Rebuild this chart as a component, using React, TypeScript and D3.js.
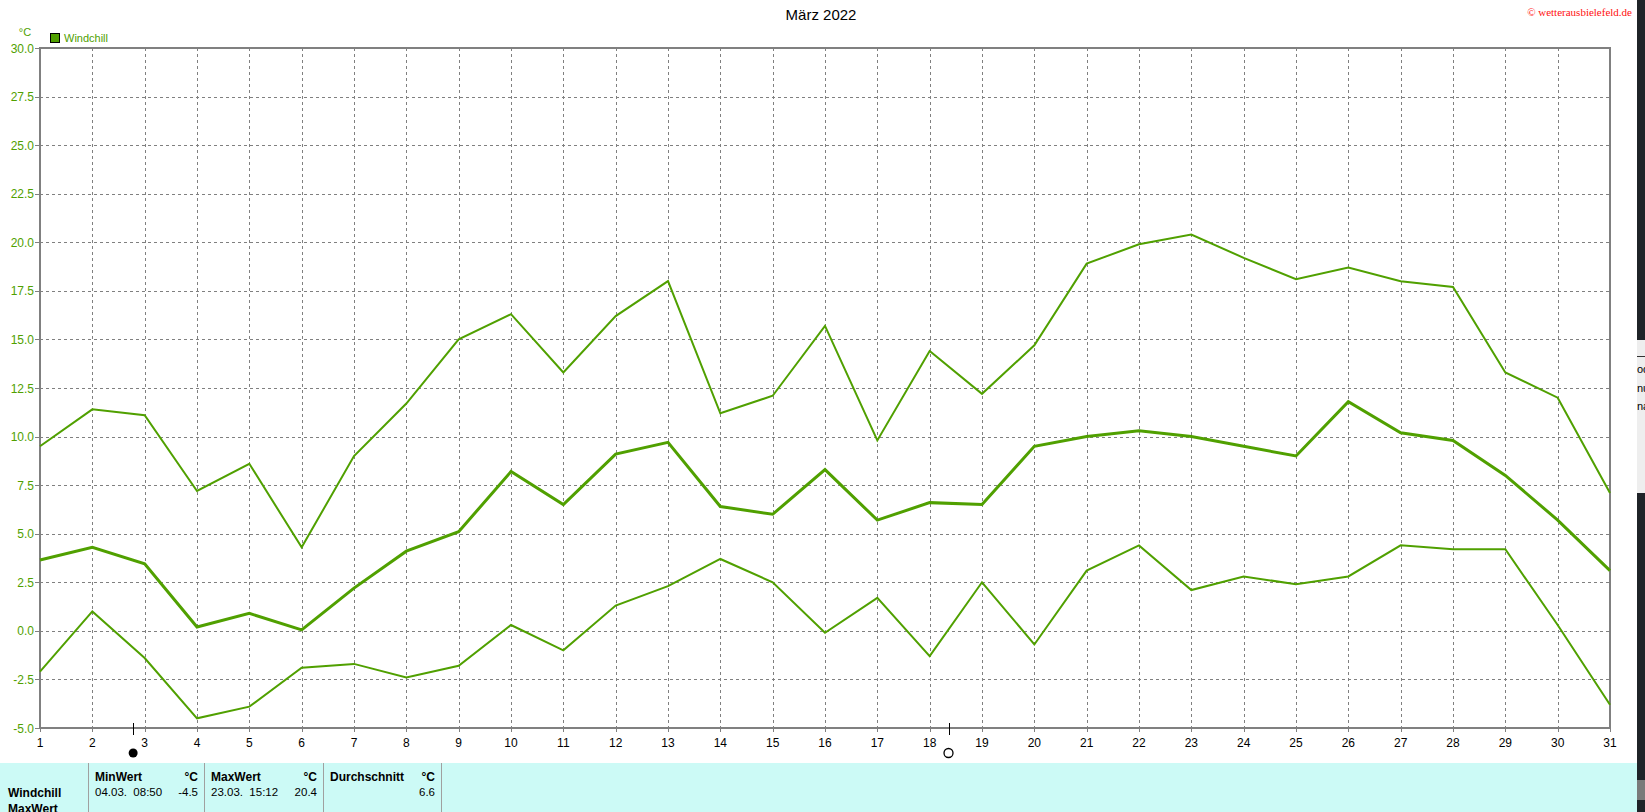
import React from "react";
import * as d3 from "d3";

const days = [1,2,3,4,5,6,7,8,9,10,11,12,13,14,15,16,17,18,19,20,21,22,23,24,25,26,27,28,29,30,31];
const maxValues = [9.5,11.4,11.1,7.2,8.6,4.3,9.0,11.7,15.0,16.3,13.3,16.2,18.0,11.2,12.1,15.7,9.8,14.4,12.2,14.7,18.9,19.9,20.4,19.2,18.1,18.7,18.0,17.7,13.3,12.0,7.1];
const avgValues = [3.65,4.3,3.45,0.2,0.9,0.05,2.2,4.1,5.1,8.2,6.5,9.1,9.7,6.4,6.0,8.3,5.7,6.6,6.5,9.5,10.0,10.3,10.0,9.5,9.0,11.8,10.2,9.8,8.0,5.7,3.1];
const minValues = [-2.1,1.0,-1.4,-4.5,-3.9,-1.9,-1.7,-2.4,-1.8,0.3,-1.0,1.3,2.3,3.7,2.5,-0.1,1.7,-1.3,2.5,-0.7,3.1,4.4,2.1,2.8,2.4,2.8,4.4,4.2,4.2,0.3,-3.8];
const yTicks = [-5,-2.5,0,2.5,5,7.5,10,12.5,15,17.5,20,22.5,25,27.5,30];
const moonNew = [2.78];
const moonFull = [18.36];
const tableCols = [
  { head: "MinWert", unit: "\u00b0C", date: "04.03.  08:50", value: "-4.5" },
  { head: "MaxWert", unit: "\u00b0C", date: "23.03.  15:12", value: "20.4" },
  { head: "Durchschnitt", unit: "\u00b0C", date: "", value: "6.6" },
];
const tableColEdges = [88, 204, 323, 441];

const W = 1645, H = 812;
const L = 40, R = 1610, T = 48, B = 728;
const GREEN = "#50a000";
const GRID = "#808080";
const FONT = "'Liberation Sans', Arial, sans-serif";

export default function App() {
  const x = d3.scaleLinear().domain([1, 31]).range([L, R]);
  const y = d3.scaleLinear().domain([-5, 30]).range([B, T]);
  const line = d3.line<number>().x((_, i) => x(days[i])).y((d) => y(d));

  return (
    <svg width={W} height={H} style={{ position: "absolute", left: 0, top: 0, display: "block" }} fontFamily={FONT}>
      <rect x={0} y={0} width={W} height={H} fill="#ffffff" />
      {/* title */}
      <text x={821} y={20} textAnchor="middle" fontSize={15} fill="#000">März 2022</text>
      <text x={1632} y={16} textAnchor="end" fontSize={11} fill="#ff1010" fontFamily="'Liberation Serif', 'Times New Roman', serif">© wetterausbielefeld.de</text>
      {/* unit + legend */}
      <text x={25} y={36} textAnchor="middle" fontSize={11} fill={GREEN}>°C</text>
      <rect x={50.5} y={33.5} width={9} height={9} fill={GREEN} stroke="#000" strokeWidth={1} />
      <text x={64} y={42} fontSize={11} fill={GREEN}>Windchill</text>
      {/* grid */}
      {yTicks.filter((t) => t !== -5 && t !== 30).map((t) => (
        <line key={"gy" + t} x1={L} x2={R} y1={Math.round(y(t)) + 0.5} y2={Math.round(y(t)) + 0.5} stroke={GRID} strokeWidth={1} strokeDasharray="3,3" />
      ))}
      {days.filter((d) => d !== 1 && d !== 31).map((d) => (
        <line key={"gx" + d} x1={Math.round(x(d)) + 0.5} x2={Math.round(x(d)) + 0.5} y1={T} y2={B} stroke={GRID} strokeWidth={1} strokeDasharray="3,3" />
      ))}
      {/* y ticks */}
      {yTicks.map((t) => (
        <g key={"yt" + t}>
          <line x1={35} x2={L} y1={Math.round(y(t)) + 0.5} y2={Math.round(y(t)) + 0.5} stroke={GRID} strokeWidth={1} />
          <text x={34} y={y(t) + 4.5} textAnchor="end" fontSize={12} fill={GREEN}>{t.toFixed(1)}</text>
        </g>
      ))}
      {/* x ticks */}
      {days.map((d) => (
        <g key={"xt" + d}>
          <line x1={Math.round(x(d)) + 0.5} x2={Math.round(x(d)) + 0.5} y1={B} y2={B + 4} stroke={GRID} strokeWidth={1} />
          <text x={x(d)} y={747} textAnchor="middle" fontSize={12} fill="#000">{d}</text>
        </g>
      ))}
      {/* frame */}
      <path d={`M${L},${B} L${L},${T} L${R},${T} L${R},${B} Z`} fill="none" stroke={GRID} strokeWidth={2} />
      {/* series */}
      <path d={line(maxValues) || ""} fill="none" stroke={GREEN} strokeWidth={2} strokeLinejoin="miter" />
      <path d={line(avgValues) || ""} fill="none" stroke={GREEN} strokeWidth={3} strokeLinejoin="miter" />
      <path d={line(minValues) || ""} fill="none" stroke={GREEN} strokeWidth={2} strokeLinejoin="miter" />
      {/* moon phases */}
      {moonNew.map((m) => (
        <g key={"mn" + m}>
          <line x1={Math.round(x(m)) + 0.5} x2={Math.round(x(m)) + 0.5} y1={723} y2={735} stroke="#000" strokeWidth={1} />
          <circle cx={x(m)} cy={753} r={4.5} fill="#000" />
        </g>
      ))}
      {moonFull.map((m) => (
        <g key={"mf" + m}>
          <line x1={Math.round(x(m)) + 0.5} x2={Math.round(x(m)) + 0.5} y1={723} y2={735} stroke="#000" strokeWidth={1} />
          <circle cx={x(m)} cy={753} r={4.5} fill="none" stroke="#000" strokeWidth={1.3} />
        </g>
      ))}
      {/* bottom table */}
      <rect x={0} y={763} width={1637} height={49} fill="#ccfaf6" />
      {tableColEdges.map((e) => (
        <line key={"te" + e} x1={e + 0.5} x2={e + 0.5} y1={763} y2={812} stroke="#a0a0a0" strokeWidth={1} />
      ))}
      <text x={8} y={797} fontSize={12} fontWeight="bold" fill="#000">Windchill</text>
      <text x={8} y={813} fontSize={12} fontWeight="bold" fill="#000">MaxWert</text>
      {tableCols.map((c, i) => (
        <g key={"tc" + i}>
          <text x={tableColEdges[i] + 7} y={781} fontSize={12} fontWeight="bold" fill="#000">{c.head}</text>
          <text x={tableColEdges[i + 1] - 6} y={781} fontSize={12} fontWeight="bold" fill="#000" textAnchor="end">{c.unit}</text>
          <text x={tableColEdges[i] + 7} y={796} fontSize={11.5} fill="#000" style={{ whiteSpace: "pre" }}>{c.date}</text>
          <text x={tableColEdges[i + 1] - 6} y={796} fontSize={11.5} fill="#000" textAnchor="end">{c.value}</text>
        </g>
      ))}
      {/* right background strip */}
      <rect x={1637} y={0} width={8} height={H} fill="#1f2328" />
      <rect x={1637} y={340} width={8} height={153} fill="#eeeeee" />
      <line x1={1637} x2={1645} y1={356.5} y2={356.5} stroke="#333" strokeWidth={1} />
      <text x={1637} y={373} fontSize={11} fill="#000">od</text>
      <text x={1637} y={392} fontSize={11} fill="#000">nu</text>
      <text x={1637} y={410} fontSize={11} fill="#000">na</text>
      <rect x={1637} y={780} width={8} height={20} fill="#7a7a7a" />
    </svg>
  );
}
